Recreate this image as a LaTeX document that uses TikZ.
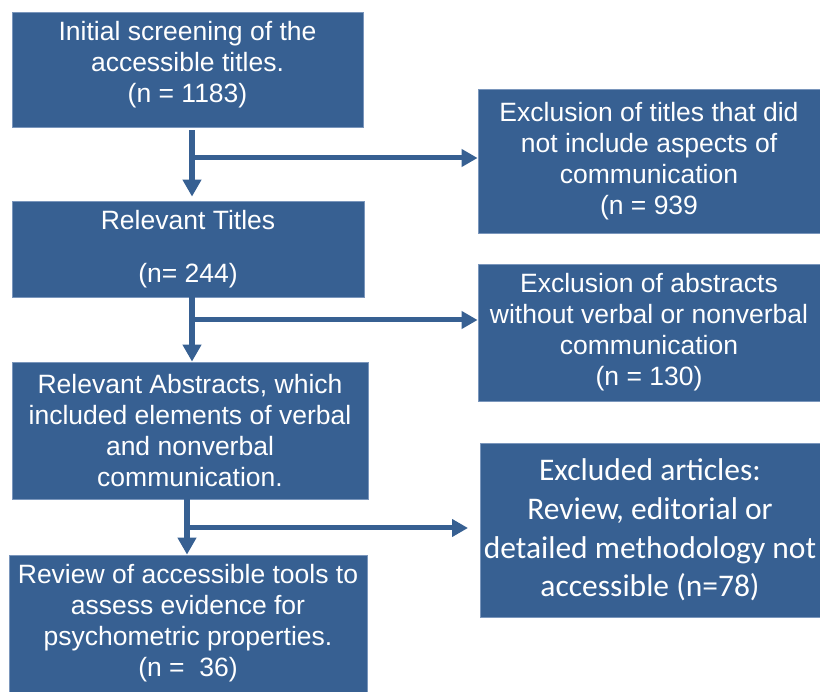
\documentclass[tikz,border=0pt]{standalone}
\usepackage{fontspec}
\setmainfont{Liberation Sans}
\newfontfamily\calib{Carlito}
\usetikzlibrary{arrows.meta}
\definecolor{boxblue}{HTML}{376092}
\definecolor{edgeblue}{HTML}{7A96BC}
\begin{document}
\begin{tikzpicture}[x=1pt,y=-1pt,
  box/.style={draw=edgeblue,line width=0.8pt,fill=boxblue,text=white,align=center,inner sep=1pt,
    font=\fontsize{26.5}{31}\selectfont},
  cbox/.style={box,font=\calib\fontsize{31.5}{38.8}\selectfont},
  txt/.style={text=white,align=center,inner sep=0pt,font=\fontsize{26.5}{31}\selectfont},
  vflow/.style={draw=boxblue,line width=6pt,-{Triangle[length=17pt,width=18pt]}},
  hflow/.style={draw=boxblue,line width=5pt,-{Triangle[length=16pt,width=17pt]}}]
\useasboundingbox (0,0) rectangle (820,692);

\node[box,minimum width=351pt,minimum height=115pt] (b1) at (187.5,69.5) {};
\node[txt] (b1t) at ([yshift=5pt]b1.center) {Initial screening of the\\accessible titles.\\(n = 1183)};
\node[box,minimum width=352pt,minimum height=96pt] (b2) at (188,249) {Relevant Titles\\[22pt](n= 244)};
\node[box,minimum width=356pt,minimum height=137pt] (b3) at (190,430.5) {Relevant Abstracts, which\\included elements of verbal\\and nonverbal\\communication.};
\node[box,minimum width=358pt,minimum height=137pt] (b4) at (188,623.5) {Review of accessible tools to\\assess evidence for\\psychometric properties.\\(n =\ \ 36)};

\node[box,minimum width=342pt,minimum height=144pt] (r1) at (649,161) {Exclusion of titles that did\\not include aspects of\\communication\\(n = 939};
\node[box,minimum width=342pt,minimum height=137pt] (r2) at (649,332.5) {Exclusion of abstracts\\without verbal or nonverbal\\communication\\(n = 130)};
\node[cbox,minimum width=340pt,minimum height=174pt] (r3) at (650,530) {Excluded articles:\\Review, editorial or\\detailed methodology not\\accessible (n=78)};

\coordinate (j1) at (192,158);
\coordinate (j2) at (192,320);
\coordinate (j3) at (187,528);
\coordinate (e3) at (468,528);

\draw[vflow] ([yshift=-3pt]b1.south -| j1) -- ([yshift=4pt]b2.north -| j1);
\draw[hflow] ([xshift=-2.5pt]j1) -- (r1.west |- j1);
\draw[vflow,shorten <=0pt] (b2.south -| j2) -- (b3.north -| j2);
\draw[hflow] ([xshift=-2.5pt]j2) -- (r2.west |- j2);
\draw[vflow] (b3.south -| j3) -- (b4.north -| j3);
\draw[hflow] ([xshift=-2.5pt]j3) -- (e3);
\end{tikzpicture}
\end{document}
